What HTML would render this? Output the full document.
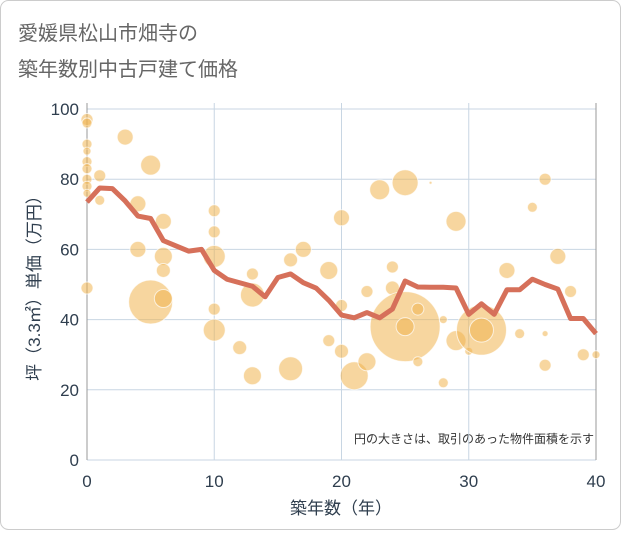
<!DOCTYPE html>
<html><head><meta charset="utf-8"><style>
body{margin:0;background:#fff;}
#wrap{width:621px;height:530px;position:relative;font-family:"Liberation Sans","Noto Sans CJK JP",sans-serif;}
svg text{font-family:"Liberation Sans","Noto Sans CJK JP",sans-serif;}
</style></head><body>
<div id="wrap">
<svg id="c" width="621" height="530">
<rect x="0.5" y="0.5" width="620" height="529" rx="8" fill="#fff" stroke="#ccc"/>
<text x="18" y="40" font-size="20" fill="#666">愛媛県松山市畑寺の</text>
<text x="18" y="76" font-size="20" fill="#666">築年数別中古戸建て価格</text>
<text x="341" y="514" font-size="17" fill="#2f3e4e" text-anchor="middle">築年数（年）</text>
<text transform="translate(40,284) rotate(-90)" font-size="17" fill="#2f3e4e" text-anchor="middle">坪（3.3㎡）単価（万円）</text>
<text x="594" y="443" font-size="12" fill="#333" text-anchor="end">円の大きさは、取引のあった物件面積を示す</text>
<g id="grid"></g><g id="bub"></g><g id="ln"></g>
</svg></div>
<script>
const xTicks=[0,10,20,30,40];
const yTicks=[0,20,40,60,80,100];
const lineYears=[0,1,2,3,4,5,6,7,8,9,10,11,12,13,14,15,16,17,18,19,20,21,22,23,24,25,26,27,28,29,30,31,32,33,34,35,36,37,38,39,40];
const lineValues=[73.5,77.5,77.3,73.8,69.5,68.8,62.5,61,59.5,60,54,51.5,50.5,49.5,46.5,52,53,50.5,49,45.5,41.3,40.5,42,40.5,43,51,49.3,49.2,49.2,49,41.5,44.5,41.5,48.5,48.5,51.5,50,48.7,40.3,40.3,36];
const bubX=[0,0,0,0,0,0,0,0,0,1,0,1,3,5,4,6,4,6,6,5,6,10,10,10,10,10,12,13,13,13,16,17,16,19,19,20,20,20,21,22,22,23,24,24,25,25,25,26,26,27,28,28,29,29,30,31,31,33,34,35,36,36,36,37,38,39,40];
const bubY=[97,96,90,88,85,83,80,78,76,81,49,74,92,84,73,68,60,58,54,45,46,71,65,58,43,37,32,53,47,24,57,60,26,54,34,69,44,31,24,48,28,77,55,49,79,38,38,43,28,79,40,22,68,34,31,37,37,54,36,72,80,36,27,58,48,30,30];
const bubR=[6,5,5,4,5,5,5,5,4,6,6,5,8,10,8,8,8,9,7,22,9,6,6,11,6,11,7,6,12,9,7,8,12,9,6,8,6,7,14,6,9,10,6,7,13,35,9,6,5,1.5,4,5,10,10,4,25,12,8,5,5,6,3,6,8,6,6,4];
const X0=87,X1=596,Y0=460,Y1=109;
const sx=v=>X0+(X1-X0)*v/40, sy=v=>Y0-(Y0-Y1)*v/100;
const NS="http://www.w3.org/2000/svg";
function mk(t,a,p){const e=document.createElementNS(NS,t);for(const k in a)e.setAttribute(k,a[k]);p.appendChild(e);return e;}
const g=document.getElementById('grid');
yTicks.forEach(v=>{
 const l=mk('line',{x1:X0,x2:X1,y1:sy(v),y2:sy(v),stroke:'#c8d6e3','stroke-width':1},g);
 
 
 const t=mk('text',{x:79,y:sy(v)+6,'font-size':17,fill:'#2f3e4e','text-anchor':'end'},g);t.textContent=v;
 
 
});
xTicks.forEach(v=>{
 const l=mk('line',{x1:sx(v),x2:sx(v),y1:Y1-6,y2:Y0,stroke:'#c8d6e3','stroke-width':1},g);
 
 
 const t=mk('text',{x:sx(v),y:487,'font-size':17,fill:'#2f3e4e','text-anchor':'middle'},g);t.textContent=v;
 
 
});
const ax=mk('path',{d:`M${X0},${Y1-6}V${Y0}`,stroke:'#999',fill:'none'},g);


const ax2=mk('path',{d:`M${X1},${Y1-6}V${Y0}`,stroke:'#999',fill:'none'},g);


const b=document.getElementById('bub');
bubX.forEach((x,i)=>{
 const c=mk('circle',{cx:sx(x),cy:sy(bubY[i]),r:bubR[i],fill:'rgba(240,180,80,0.55)',stroke:'rgba(255,255,255,0.7)','stroke-width':1},b);
 
 
});
const p=mk('polyline',{points:lineYears.map((x,i)=>sx(x)+','+sy(lineValues[i])).join(' '),fill:'none',stroke:'#d6705a','stroke-width':5,'stroke-linejoin':'round'},document.getElementById('ln'));


</script>
</body></html>
